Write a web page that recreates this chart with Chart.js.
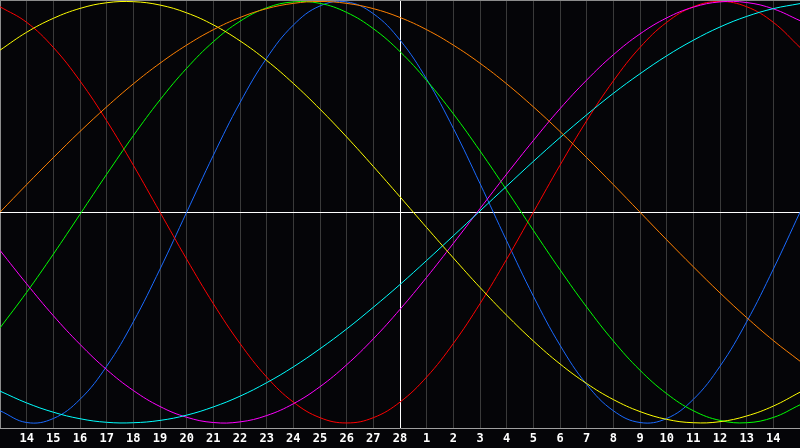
<!DOCTYPE html>
<html>
<head>
<meta charset="utf-8">
<script src="https://cdn.jsdelivr.net/npm/chart.js@4.4.1/dist/chart.umd.min.js"></script>
<style>
  html, body { margin: 0; padding: 0; background: #050508; }
  #chart { display: block; background: #050508; }
</style>
</head>
<body>
<canvas id="chart" width="800" height="448"></canvas>
<script>
// day labels, one per grid column (edges are blank)
const dayLabels = ['', '14', '15', '16', '17', '18', '19', '20', '21', '22', '23', '24', '25', '26', '27', '28',
    '1', '2', '3', '4', '5', '6', '7', '8', '9', '10', '11', '12', '13', '14', ''];

// values, -1 .. 1
const physical = [-0.942, -0.998, -0.979, -0.888, -0.731, -0.520, -0.270, 0, 0.270, 0.520, 0.731, 0.888, 0.979, 0.998, 0.942,
    0.817, 0.631, 0.398, 0.136, -0.136, -0.398, -0.631, -0.817, -0.942, -0.998, -0.979, -0.888, -0.731, -0.520, -0.270, 0];
const emotional = [0.975, 0.901, 0.782, 0.623, 0.434, 0.223, 0, -0.223, -0.434, -0.623, -0.782, -0.901, -0.975, -1, -0.975,
    -0.901, -0.782, -0.623, -0.434, -0.223, 0, 0.223, 0.434, 0.623, 0.782, 0.901, 0.975, 1, 0.975, 0.901, 0.782];
const intellectual = [-0.549, -0.380, -0.199, -0.010, 0.180, 0.363, 0.533, 0.683, 0.809, 0.906, 0.970, 0.998, 0.991, 0.948, 0.871,
    0.762, 0.625, 0.467, 0.291, 0.105, -0.086, -0.273, -0.450, -0.611, -0.750, -0.861, -0.942, -0.988, -0.999, -0.974, -0.914];
const intuitive = [-0.181, -0.340, -0.491, -0.627, -0.747, -0.846, -0.922, -0.973, -0.998, -0.995, -0.965, -0.909, -0.828, -0.724, -0.601,
    -0.461, -0.309, -0.148, 0.017, 0.181, 0.340, 0.491, 0.627, 0.747, 0.846, 0.922, 0.973, 0.998, 0.995, 0.965, 0.909];
const aesthetic = [0.769, 0.854, 0.920, 0.967, 0.994, 0.999, 0.983, 0.946, 0.889, 0.813, 0.720, 0.611, 0.489, 0.357, 0.217,
    0.073, -0.073, -0.217, -0.357, -0.489, -0.611, -0.720, -0.813, -0.889, -0.946, -0.983, -0.999, -0.994, -0.967, -0.920, -0.854];
const awareness = [0, 0.131, 0.259, 0.383, 0.5, 0.609, 0.707, 0.793, 0.866, 0.924, 0.966, 0.991, 1, 0.991, 0.966,
    0.924, 0.866, 0.793, 0.707, 0.609, 0.5, 0.383, 0.259, 0.131, 0, -0.131, -0.259, -0.383, -0.5, -0.609, -0.707];
const spiritual = [-0.849, -0.905, -0.949, -0.980, -0.997, -0.999, -0.988, -0.963, -0.924, -0.873, -0.809, -0.734, -0.648, -0.554, -0.451,
    -0.343, -0.229, -0.112, 0.006, 0.124, 0.241, 0.354, 0.462, 0.564, 0.657, 0.742, 0.816, 0.879, 0.929, 0.966, 0.990];

const yTop = 1.007;
const yBottom = -1.024;

function line(data, color) {
    return {
        data: data,
        borderColor: color,
        borderWidth: 1,
        pointRadius: 0,
        tension: 0.4,
        fill: false
    };
}

new Chart("chart", {
    type: "line",
    data: {
        labels: dayLabels,
        datasets: [
            line(awareness, '#ff8000'),
            line(aesthetic, '#ffff00'),
            line(spiritual, '#00ffff'),
            line(intuitive, '#ff00ff'),
            line(intellectual, '#00ff00'),
            line(emotional, '#ff0000'),
            line(physical, '#1a6aff')
        ]
    },
    options: {
        responsive: false,
        animation: false,
        layout: { padding: 0 },
        plugins: {
            legend: { display: false },
            tooltip: { enabled: false }
        },
        scales: {
            x: {
                type: 'category',
                offset: false,
                grid: {
                    drawTicks: false,
                    lineWidth: 1,
                    color: ctx => ctx.index === 15 ? '#ffffff' : (ctx.index === 0 ? '#8c8c8c' : '#3a3a3a')
                },
                border: { display: true, color: '#a0a0a0' },
                ticks: {
                    color: '#ffffff',
                    font: { family: 'DejaVu Sans Mono', weight: 'bold', size: 12, lineHeight: 1.85 },
                    autoSkip: false,
                    maxRotation: 0,
                    padding: 0
                },
                afterFit: s => { s.height = 20; }
            },
            y: {
                min: yBottom,
                max: yTop,
                ticks: { display: false, padding: 0 },
                border: { display: false },
                grid: {
                    drawTicks: false,
                    color: ctx => ctx.tick.value === 0 ? '#ffffff' : '#8c8c8c'
                },
                afterBuildTicks: s => { s.ticks = [{ value: yTop }, { value: 0 }]; },
                afterFit: s => { s.width = 0; }
            }
        }
    }
});
</script>
</body>
</html>
